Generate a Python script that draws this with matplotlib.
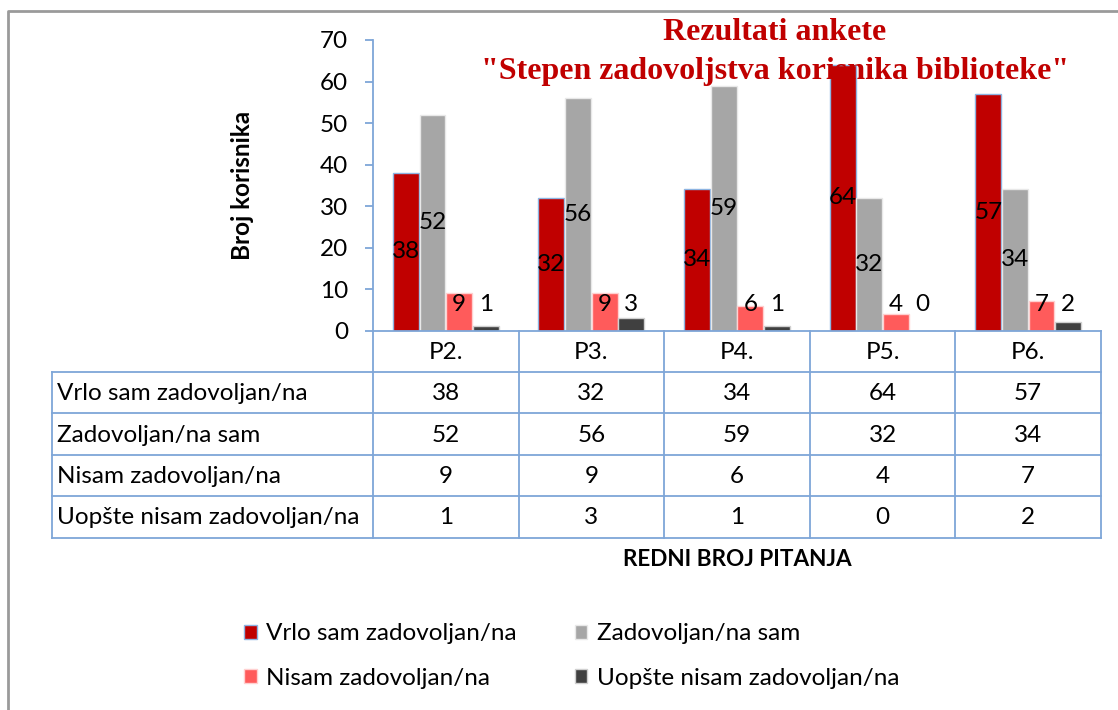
import matplotlib.pyplot as plt
import numpy as np
from matplotlib.lines import Line2D

plt.rcParams['font.family'] = ['Lato', 'DejaVu Sans']

categories = ["P2.", "P3.", "P4.", "P5.", "P6."]
series_names = ["Vrlo sam zadovoljan/na", "Zadovoljan/na sam",
                "Nisam zadovoljan/na", "Uopšte nisam zadovoljan/na"]
vrlo = [38, 32, 34, 64, 57]
zadovoljan = [52, 56, 59, 32, 34]
nisam = [9, 9, 6, 4, 7]
uopste = [1, 3, 1, 0, 2]
series = [vrlo, zadovoljan, nisam, uopste]
colors = ["#C00000", "#A6A6A6", "#FF5B5B", "#404040"]
edges = ["#8DB4E2", "#E8E8E8", "#FFD0D0", "#D0D0D0"]
yticks = [0, 10, 20, 30, 40, 50, 60, 70]

W, H = 1118, 710
axblue = "#7EA6D8"
fs = 17.5
fig = plt.figure(figsize=(W / 100, H / 100), dpi=100)

# plot area in pixels (top-based)
x0, x1, ytop, ybot = 373, 1101, 40, 330.5
ax = fig.add_axes([x0 / W, (H - ybot) / H, (x1 - x0) / W, (ybot - ytop) / H])
ax.set_xlim(-0.5, len(categories) - 0.5)
ax.set_ylim(0, 70)
for s in ["top", "right"]:
    ax.spines[s].set_visible(False)
ax.spines["left"].set_color(axblue)
ax.spines["bottom"].set_color(axblue)
ax.spines["left"].set_linewidth(1.3)
ax.spines["bottom"].set_linewidth(1.3)
ax.set_xticks([])
ax.set_yticks(yticks)
ax.tick_params(axis="y", length=6, width=1.3, color=axblue, labelsize=fs, pad=12)

xs = np.arange(len(categories))
step, width = 0.183, 0.178
bars = []
for i, vals in enumerate(series):
    off = (i - 1.5) * step
    b = ax.bar(xs + off, vals, width, color=colors[i], edgecolor=edges[i],
               linewidth=1.0, label=series_names[i])
    bars.append(b)
    for x, v in zip(xs, vals):
        ax.text(x + off, max(v / 2, 6.2), str(v), ha="center", va="center",
                fontsize=fs, color="black")

# overlay in pixel coordinates
ov = fig.add_axes([0, 0, 1, 1], facecolor="none")
ov.set_xlim(0, W)
ov.set_ylim(H, 0)
ov.axis("off")

# outer chart border
ov.add_line(Line2D([8, 8, W], [H, 11, 11], color="#9A9A9A", lw=2))

ov.text(243, 185, "Broj korisnika", ha="center", va="center", rotation=90,
        fontsize=17.5, fontweight="bold")

# data table
bounds = np.linspace(x0, x1, len(categories) + 1)
row_y = [331, 372, 413, 455, 496, 538]
tl = 52
for bx in bounds:
    ov.add_line(Line2D([bx, bx], [row_y[0], row_y[-1]], color=axblue, lw=1.3))
ov.add_line(Line2D([tl, tl], [row_y[1], row_y[-1]], color=axblue, lw=1.3))
for ry in row_y[1:]:
    ov.add_line(Line2D([tl, x1], [ry, ry], color=axblue, lw=1.3))
for j, c in enumerate(categories):
    ov.text((bounds[j] + bounds[j + 1]) / 2, (row_y[0] + row_y[1]) / 2 + 1, c,
            ha="center", va="center", fontsize=fs)
for i, vals in enumerate(series):
    yc = (row_y[i + 1] + row_y[i + 2]) / 2 + 1
    ov.text(tl + 5, yc, series_names[i], ha="left", va="center", fontsize=fs)
    for j, v in enumerate(vals):
        ov.text((bounds[j] + bounds[j + 1]) / 2, yc, str(v),
                ha="center", va="center", fontsize=fs)

ov.text(737, 560, "REDNI BROJ PITANJA", ha="center", va="center",
        fontsize=16.2, fontweight="bold")

ov.text(775, 33, "Rezultati ankete", ha="center", va="center", color="#C00000",
        fontsize=23, fontweight="bold", family="Liberation Serif")
ov.text(775, 72, "\"Stepen zadovoljstva korisnika biblioteke\"", ha="center",
        va="center", color="#C00000", fontsize=23, fontweight="bold",
        family="Liberation Serif")

order = [0, 2, 1, 3]
fig.legend([bars[k] for k in order], [series_names[k] for k in order], ncol=2,
           loc="center", bbox_to_anchor=(572 / W, 1 - 656 / H), frameon=False,
           fontsize=fs, handlelength=0.5, handleheight=0.5, handletextpad=0.4,
           labelspacing=0.95, columnspacing=2.4)

fig.savefig("out.png", dpi=100)
